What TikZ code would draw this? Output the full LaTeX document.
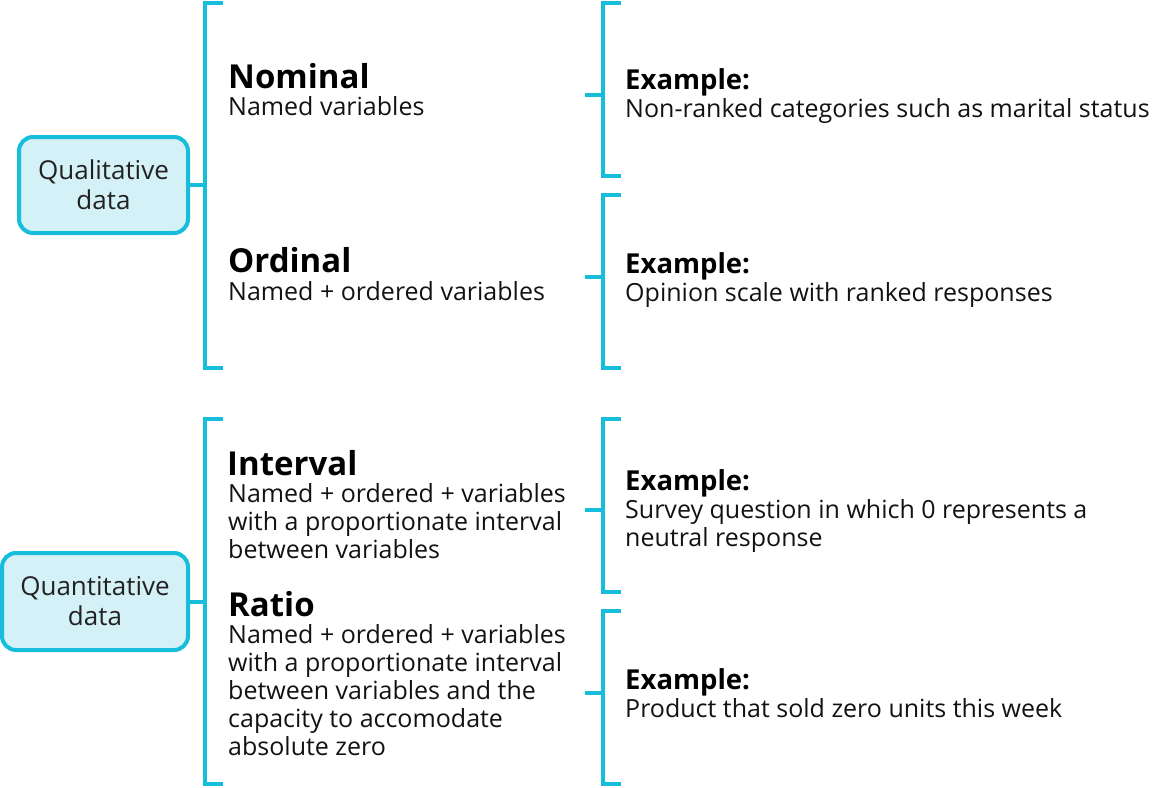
\documentclass[tikz,border=0pt]{standalone}
\usepackage{fontspec}
\setmainfont{Open Sans}
\definecolor{cyanline}{HTML}{17BEDB}
\definecolor{cyanfill}{HTML}{D3F1F7}
\definecolor{boxtext}{HTML}{222222}
\begin{document}
\begin{tikzpicture}[x=1pt,y=-1pt,
  bline/.style={draw=cyanline,line width=4pt},
  catbox/.style={draw=cyanline,fill=cyanfill,line width=4pt,rounded corners=14pt,
    align=center,text=boxtext,inner sep=0pt,
    font=\fontsize{26}{30}\selectfont},
  head/.style={anchor=base west,inner sep=0pt,font=\fontsize{33}{38}\selectfont\bfseries},
  exhead/.style={anchor=base west,inner sep=0pt,font=\fontsize{27.5}{30}\selectfont\bfseries},
  body/.style={anchor=base west,inner sep=0pt,align=left,text=black!93,
    font=\fontsize{25}{28}\selectfont},
]
\useasboundingbox (0,0) rectangle (1156,787);

% category boxes
\node[catbox,minimum width=169pt,minimum height=96pt] (qual) at (103.5,185) {Qualitative\\data};
\node[catbox,minimum width=186pt,minimum height=97pt] (quant) at (95,601.5) {Quantitative\\data};

% left brackets
\coordinate (lb1t) at (205,3);
\coordinate (lb1b) at (205,368);
\coordinate (lb1m) at (205,185);
\draw[bline] (223,3) -- (lb1t) -- (lb1b) -- (223,368);
\draw[bline] (qual.east) -- (lb1m);

\coordinate (lb2t) at (205,419);
\coordinate (lb2b) at (205,784);
\coordinate (lb2m) at (205,601.5);
\draw[bline] (223,419) -- (lb2t) -- (lb2b) -- (223,784);
\draw[bline] (quant.east) -- (lb2m);

% right brackets
\foreach \n/\t/\b/\m in {1/3/176/95, 2/195/368/277, 3/419/592/510, 4/611/784/693}{
  \coordinate (rb\n t) at (603,\t);
  \coordinate (rb\n b) at (603,\b);
  \coordinate (rb\n m) at (603,\m);
  \coordinate (rs\n) at (585,\m);
  \draw[bline] (621,\t) -- (rb\n t) -- (rb\n b) -- (621,\b);
  \draw[bline] (rs\n) -- (rb\n m);
}

% level texts (multi-line bodies are placed by the baseline of their last line)
\node[head] (nomh) at (228,88) {Nominal};
\node[body] (nomb) at (228,115) {Named variables};

\node[head] (ordh) at (228,272) {Ordinal};
\node[body] (ordb) at (228,300) {Named + ordered variables};

\node[head] (inth) at (227,475) {Interval};
\node[body] (intb) at (228,558) {Named + ordered + variables\\with a proportionate interval\\between variables};

\node[head] (rath) at (228,616) {Ratio};
\node[body] (ratb) at (228,755) {Named + ordered + variables\\with a proportionate interval\\between variables and the\\capacity to accomodate\\absolute zero};

% examples
\node[exhead] (ex1h) at (625,89) {Example:};
\node[body] (ex1b) at (625,117) {Non-ranked categories such as marital status};

\node[exhead] (ex2h) at (625,273) {Example:};
\node[body] (ex2b) at (625,301) {Opinion scale with ranked responses};

\node[exhead] (ex3h) at (625,490) {Example:};
\node[body] (ex3b) at (625,546) {Survey question in which 0 represents a\\neutral response};

\node[exhead] (ex4h) at (625,689) {Example:};
\node[body] (ex4b) at (625,717) {Product that sold zero units this week};
\end{tikzpicture}
\end{document}
